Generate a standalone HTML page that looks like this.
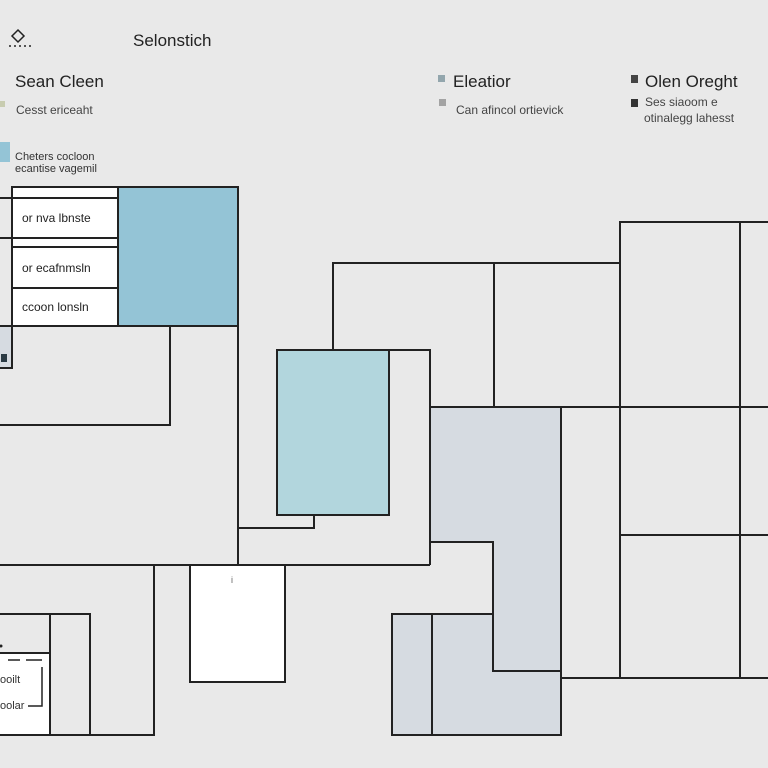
<!DOCTYPE html>
<html><head><meta charset="utf-8"><style>
html,body{margin:0;padding:0;background:#e9e9e9;}
svg{display:block;}
text{font-family:"Liberation Sans",sans-serif;}
</style></head><body>
<svg width="768" height="768" viewBox="0 0 768 768" xmlns="http://www.w3.org/2000/svg">
<rect width="768" height="768" fill="#e9e9e9"/>
<!-- header -->
<path d="M18 30 L24 36 L18 42 L12 36 Z" fill="none" stroke="#222" stroke-width="1.5"/>
<path d="M9 46h2M14 46h2M19 46h2M24 46h2M29 46h2" stroke="#222" stroke-width="1.5"/>
<text x="133" y="46" font-size="17" fill="#222">Selonstich</text>
<text x="15" y="87" font-size="17" fill="#222">Sean Cleen</text>
<rect x="0" y="101" width="5" height="6" fill="#c8ccb0"/>
<text x="16" y="114" font-size="12" fill="#444">Cesst ericeaht</text>
<rect x="0" y="142" width="10" height="20" fill="#94c4d6"/>
<text x="15" y="160" font-size="11" fill="#333">Cheters cocloon</text>
<text x="15" y="172" font-size="11" fill="#333">ecantise vagemil</text>
<rect x="438" y="75" width="7" height="7" fill="#93a6ad"/>
<text x="453" y="87" font-size="17" fill="#222">Eleatior</text>
<rect x="439" y="99" width="7" height="7" fill="#a3a3a3"/>
<text x="456" y="114" font-size="12" fill="#444">Can afincol ortievick</text>
<rect x="631" y="75" width="7" height="8" fill="#444"/>
<text x="645" y="87" font-size="17" fill="#222">Olen Oreght</text>
<rect x="631" y="99" width="7" height="8" fill="#333"/>
<text x="645" y="106" font-size="12" fill="#444">Ses siaoom e</text>
<text x="644" y="122" font-size="12" fill="#444">otinalegg lahesst</text>

<g stroke="#222" stroke-width="2" fill="none">
<path d="M430 407H561V735H392V614H493V542H430Z" fill="#d6dbe1"/>
<path d="M493 614V671H561"/>
<line x1="432" y1="614" x2="432" y2="735"/>
<rect x="277" y="350" width="112" height="165" fill="#b2d6dd"/>
<rect x="118" y="187" width="120" height="139" fill="#94c4d6"/>
<rect x="12" y="187" width="106" height="139" fill="#fff"/>
<path d="M12 198H118M12 238H118M12 247H118M12 288H118"/>
<path d="M0 198H12M0 238H12"/>
<rect x="-2" y="326" width="14" height="42" fill="#d6dbe1"/>
<path d="M12 326V368"/>
<path d="M0 425H170V326"/>
<path d="M238 326V565"/>
<path d="M0 565H430"/>
<path d="M238 528H314V515"/>
<path d="M389 350H430V565"/>
<path d="M333 350V263H619"/>
<path d="M494 263V407"/>
<path d="M561 407H768"/>
<rect x="620" y="222" width="150" height="456"/>
<path d="M740 222V678M620 535H768M561 678H620"/>
<path d="M154 565V735H0"/>
<path d="M0 614H90V735M50 614V735"/>
<rect x="-2" y="653" width="52" height="82" fill="#fff"/>
<rect x="190" y="565" width="95" height="117" fill="#fff"/>
</g>
<rect x="1" y="354" width="6" height="8" fill="#2a3a44"/>
<path d="M8 660H20M26 660H42M42 667V706H28" stroke="#222" stroke-width="1.5" fill="none"/>
<circle cx="1" cy="646" r="1.5" fill="#222"/>
<text x="0" y="683" font-size="11" fill="#333">ooilt</text>
<text x="0" y="709" font-size="11" fill="#333">oolar</text>
<text x="22" y="222" font-size="12" fill="#222">or nva lbnste</text>
<text x="22" y="272" font-size="12" fill="#222">or ecafnmsln</text>
<text x="22" y="311" font-size="12" fill="#222">ccoon lonsln</text>
<text x="231" y="583" font-size="9" fill="#666">i</text>
</svg>
</body></html>
